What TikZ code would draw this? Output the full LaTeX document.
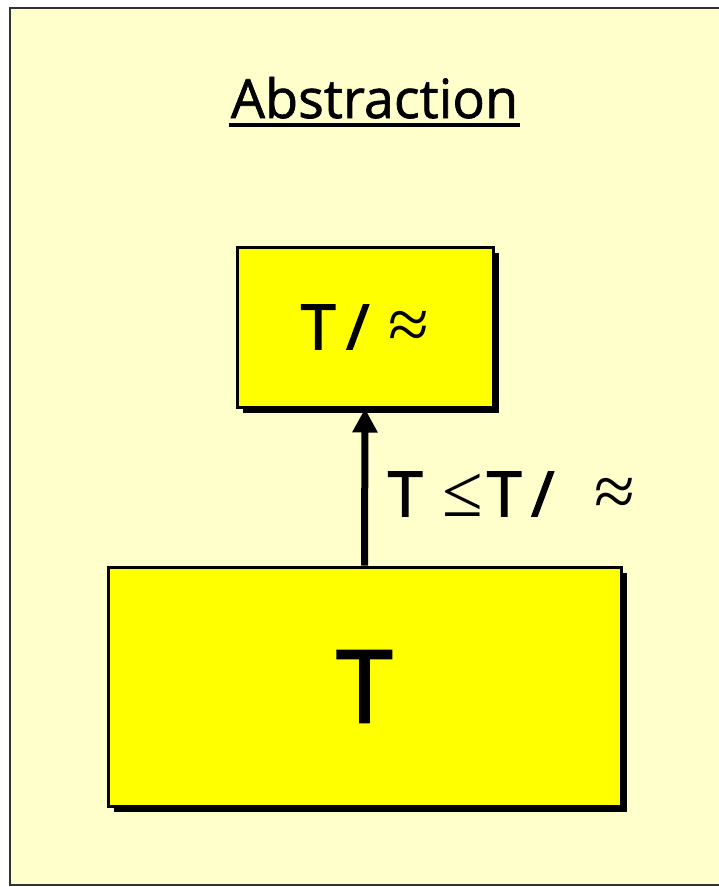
\documentclass[tikz,border=0pt]{standalone}
\usepackage{fontspec}
\setmainfont{Open Sans}[FakeBold=1.2]
\newfontfamily\heavyf{Open Sans}[FakeBold=2.5]
\newfontfamily\symf{Liberation Serif}
\usetikzlibrary{shadows,arrows.meta,calc}
\definecolor{bgyellow}{HTML}{FFFFCC}
\definecolor{boxyellow}{HTML}{FFFF00}
\newcommand{\symb}[1]{{\symf\fontsize{74}{80}\selectfont #1}}
\tikzset{
  ybox/.style={draw=black, line width=3pt, fill=boxyellow,
    drop shadow={shadow xshift=6pt, shadow yshift=-6pt, fill=black, opacity=1},
    inner sep=0pt},
  boxtext/.style={font=\heavyf\fontsize{62}{70}\selectfont},
}
\begin{document}
\begin{tikzpicture}[x=1pt,y=-1pt]
\useasboundingbox (0,0) rectangle (719,887);
\clip (0,0) rectangle (719,887);
\fill[white] (0,0) rectangle (719,887);
\draw[fill=bgyellow, draw=black!80, line width=2pt] (10,8) rectangle (730,885);
\node[anchor=base, inner sep=0pt, font=\fontsize{54}{60}\selectfont] (title) at (374.5,118) {Abstraction};
\draw[line width=3.5pt] ($(title.base west)+(-2,7)$) -- ($(title.base east)+(2,7)$);
\node[ybox, minimum width=256pt, minimum height=160pt, boxtext] (top) at (365,327) {T\hspace{11pt}/\hspace{19pt}\symb{≈}};
\node[ybox, minimum width=513pt, minimum height=239pt, font=\heavyf\fontsize{100}{104}\selectfont] (bot) at (364.5,686.5) {T};
\draw[line width=7pt, -{Triangle[length=24pt,width=24pt]}] (bot.north) -- (top.south);
\node[inner sep=0pt, anchor=west, boxtext] (lbl) at (388,494) {T\hspace{20pt}\symb{≤}\hspace{4pt}T\hspace{10pt}/\hspace{40pt}\symb{≈}};
\end{tikzpicture}
\end{document}
